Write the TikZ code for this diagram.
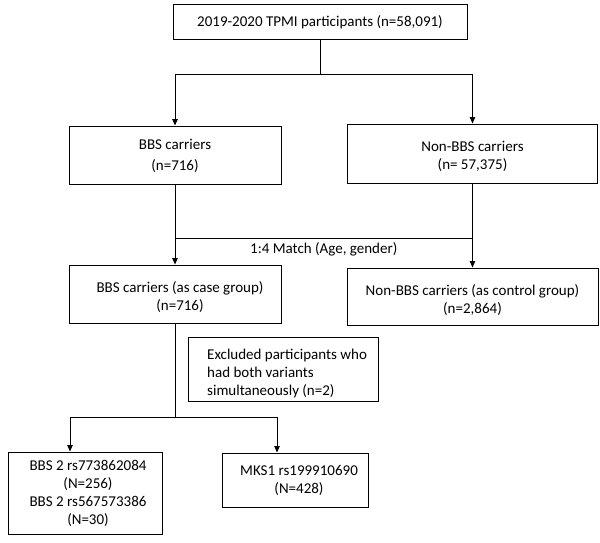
\documentclass[tikz,border=0pt]{standalone}
\usepackage{fontspec}
\setmainfont{Carlito}
\usetikzlibrary{arrows.meta}
\begin{document}
\begin{tikzpicture}[x=1pt,y=-1pt,
  box/.style={draw,line width=1pt,rectangle,inner sep=0pt},
  txt/.style={font=\fontsize{15}{18}\selectfont,align=center,inner sep=0pt},
  ln/.style={line width=1pt},
  arr/.style={line width=1pt,-{Triangle[length=6.5pt,width=5.5pt]}}]
\useasboundingbox (0,0) rectangle (600,543);
% boxes
\node[box,minimum width=294pt,minimum height=35pt] (top) at (320,22) {};
\node[txt] at (top.center) {2019-2020 TPMI participants (n=58,091)};
\node[box,minimum width=212pt,minimum height=58pt] (bbs) at (175,155) {};
\node[txt,font=\fontsize{15}{21}\selectfont] at (175,156) {BBS carriers\\(n=716)};
\node[box,minimum width=250pt,minimum height=59pt] (non) at (472.5,153.5) {};
\node[txt] at (472.5,156) {Non-BBS carriers\\(n= 57,375)};
\node[box,minimum width=212pt,minimum height=58pt] (case) at (175,294) {};
\node[txt] at (180,297) {BBS carriers (as case group)\\(n=716)};
\node[box,minimum width=251pt,minimum height=57pt] (ctrl) at (472.5,296.5) {};
\node[txt] at (472.5,300) {Non-BBS carriers (as control group)\\(n=2,864)};
\node[box,minimum width=190pt,minimum height=64pt] (excl) at (283,369.5) {};
\node[txt,align=left,anchor=west] at (207,373) {Excluded participants who\\had both variants\\simultaneously (n=2)};
\node[box,minimum width=154pt,minimum height=82pt] (bl) at (85,493) {};
\node[txt] at (88,493) {BBS 2 rs773862084\\(N=256)\\BBS 2 rs567573386\\(N=30)};
\node[box,minimum width=146pt,minimum height=54pt] (br) at (295,480) {};
\node[txt] at (299,480) {MKS1 rs199910690\\(N=428)};
% connectors
\coordinate (j1) at (320,75);
\coordinate (j1l) at (175,75);
\coordinate (j1r) at (472.5,75);
\draw[ln] (top.south) -- (j1);
\draw[ln] (j1l) -- (j1r);
\draw[arr] (j1l) -- (bbs.north);
\draw[arr] (j1r) -- (non.north);
\coordinate (m1) at (175,238);
\coordinate (m2) at (472.5,238);
\draw[arr] (bbs.south) -- (case.north);
\draw[arr] (non.south) -- (ctrl.north);
\draw[ln] (m1) -- node[txt,below=4pt] {1:4 Match (Age, gender)} (m2);
\coordinate (s1) at (175,417);
\coordinate (s1l) at (70,417);
\coordinate (s1r) at (277,417);
\draw[ln] (case.south) -- (s1);
\draw[ln] (s1l) -- (s1r);
\draw[arr] (s1l) -- (s1l |- bl.north);
\draw[arr] (s1r) -- (s1r |- br.north);
\end{tikzpicture}
\end{document}
